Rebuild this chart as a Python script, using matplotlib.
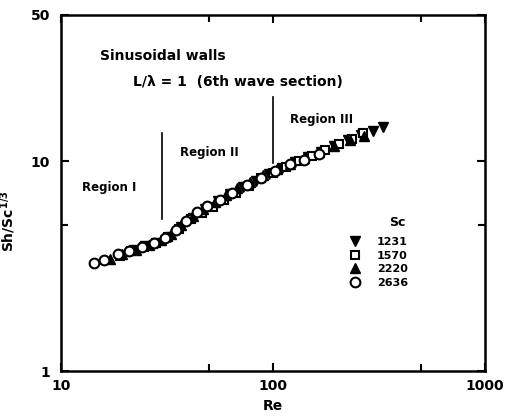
import matplotlib
matplotlib.use("Agg")
import matplotlib.pyplot as plt
from matplotlib.ticker import FixedLocator, NullFormatter, FixedFormatter

# Sh/Sc^(1/3) vs Re for four Schmidt numbers
re_1231 = [22, 25, 28.5, 32.5, 37, 42, 48, 55, 63, 72, 83, 96, 110, 127, 146, 168, 195, 225, 260, 295, 330]
sh_1231 = [3.8, 3.95, 4.1, 4.35, 4.85, 5.4, 5.95, 6.5, 7.0, 7.55, 8.1, 8.7, 9.3, 9.9, 10.5, 11.1, 11.9, 12.6, 13.4, 14.0, 14.6]

re_1570 = [19, 21.5, 24.5, 28, 32, 36, 41, 46, 52, 59, 67, 77, 88, 100, 115, 132, 152, 175, 205, 235, 265]
sh_1570 = [3.55, 3.72, 3.9, 4.1, 4.35, 4.75, 5.3, 5.7, 6.05, 6.55, 7.1, 7.65, 8.3, 8.8, 9.4, 10.0, 10.6, 11.3, 12.1, 12.8, 13.6]

re_2220 = [17, 19.5, 22.5, 26, 29.5, 33, 37, 42, 47, 53, 60, 68, 78, 90, 104, 120, 140, 165, 195, 230, 270]
sh_2220 = [3.42, 3.6, 3.8, 4.0, 4.2, 4.5, 4.95, 5.5, 5.95, 6.4, 6.95, 7.45, 8.0, 8.6, 9.2, 9.75, 10.4, 11.1, 11.9, 12.6, 13.3]

re_2636 = [14.3, 16.0, 18.5, 21, 24, 27.5, 31, 35, 39, 44, 49, 56, 64, 75, 88, 102, 120, 140, 165]
sh_2636 = [3.28, 3.38, 3.6, 3.75, 3.92, 4.1, 4.3, 4.7, 5.2, 5.75, 6.1, 6.55, 7.1, 7.7, 8.3, 9.0, 9.7, 10.2, 10.9]

# region boundaries: Re, lower and upper end of the marker line
bound_re = [30, 100]
bound_lo = [5.3, 9.8]
bound_hi = [13.7, 20.3]

sc_labels = ["1231", "1570", "2220", "2636"]

fig = plt.figure(figsize=(5.07, 4.19), dpi=100)
ax = fig.add_axes([61 / 507, 48 / 419, 424 / 507, 356 / 419])

ms = 7
ax.plot(re_1231, sh_1231, ls="none", marker="v", ms=ms, mfc="black", mec="black", label=sc_labels[0])
ax.plot(re_1570, sh_1570, ls="none", marker="s", ms=ms - 1, mfc="white", mec="black", mew=1.5, label=sc_labels[1])
ax.plot(re_2220, sh_2220, ls="none", marker="^", ms=ms, mfc="black", mec="black", label=sc_labels[2])
ax.plot(re_2636, sh_2636, ls="none", marker="o", ms=ms, mfc="white", mec="black", mew=1.5, label=sc_labels[3])

for r, lo, hi in zip(bound_re, bound_lo, bound_hi):
    ax.plot([r, r], [lo, hi], color="black", lw=1.2)

ax.set_xscale("log")
ax.set_yscale("log")
ax.set_xlim(10, 1000)
ax.set_ylim(1, 50)

ax.xaxis.set_major_locator(FixedLocator([10, 100, 1000]))
ax.xaxis.set_major_formatter(FixedFormatter(["10", "100", "1000"]))
ax.xaxis.set_minor_locator(FixedLocator([50, 500]))
ax.xaxis.set_minor_formatter(NullFormatter())
ax.yaxis.set_major_locator(FixedLocator([1, 10, 50]))
ax.yaxis.set_major_formatter(FixedFormatter(["1", "10", "50"]))
ax.yaxis.set_minor_locator(FixedLocator([5]))
ax.yaxis.set_minor_formatter(NullFormatter())

ax.tick_params(which="both", direction="in", top=True, right=True, width=1.5,
               labelsize=10)
ax.tick_params(which="major", length=6)
ax.tick_params(which="minor", length=5)
ax.tick_params(axis="y", pad=8)
ax.tick_params(axis="x", pad=6)
for lab in ax.get_xticklabels() + ax.get_yticklabels():
    lab.set_fontweight("bold")
for s in ax.spines.values():
    s.set_linewidth(1.8)

plt.rcParams["mathtext.fontset"] = "dejavusans"
ax.set_xlabel("Re", fontsize=10, fontweight="bold")
ax.set_ylabel(r"Sh/Sc$^{\mathbf{1/3}}$", fontsize=10, fontweight="bold")
ax.xaxis.set_label_coords(0.5, -0.08)
ax.yaxis.set_label_coords(-0.101, 0.42)

ax.text(15.3, 32, "Sinusoidal walls", fontsize=10, fontweight="bold", va="center")
ax.text(21.9, 23.9, "L/\u03bb = 1  (6th wave section)", fontsize=10, fontweight="bold", va="center")
ax.text(12.6, 7.55, "Region I", fontsize=8.5, fontweight="bold", va="center")
ax.text(36.4, 11.0, "Region II", fontsize=8.5, fontweight="bold", va="center")
ax.text(120, 15.8, "Region III", fontsize=8.5, fontweight="bold", va="center")

# legend title drawn as its own text, centred over the Sc numbers
ax.text(385, 5.14, "Sc", fontsize=9, fontweight="bold", ha="center", va="center")
leg = ax.legend(loc="upper left", bbox_to_anchor=(0.68, 0.376), frameon=False,
                fontsize=8, handlelength=1.0, handletextpad=1.5, labelspacing=0.32,
                borderpad=0, borderaxespad=0, markerscale=1.0)
for t in leg.get_texts():
    t.set_fontweight("bold")

fig.savefig("out.png", dpi=100)
